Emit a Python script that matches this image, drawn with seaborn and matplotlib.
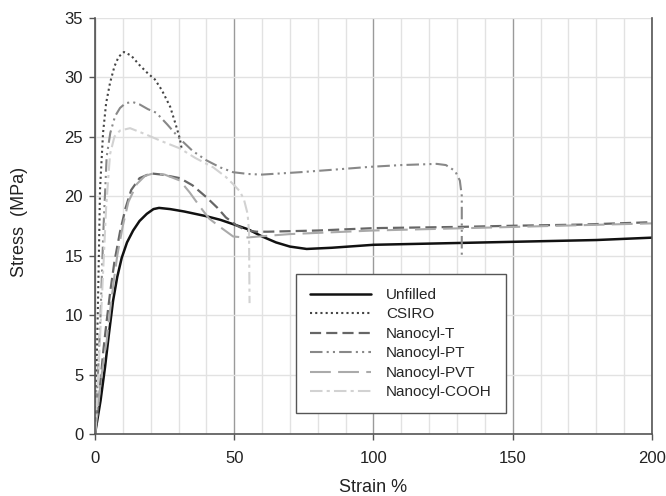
import numpy as np
import pandas as pd
import matplotlib
matplotlib.use('Agg')
import matplotlib.pyplot as plt
import seaborn as sns
from matplotlib.ticker import MultipleLocator

sns.set_style("white")
plt.rcParams['font.family'] = ['Liberation Sans', 'DejaVu Sans']

# stress-strain curves
unfilled_x = [0, 2, 3.6, 5, 6.5, 8, 9.6, 11.5, 13.7, 16, 18.6, 21, 23, 27, 32, 40,
              45, 50, 55, 60, 65, 70, 76, 85, 100, 120, 140, 160, 180, 200]
unfilled_y = [0, 2.8, 5.6, 8.4, 11.2, 13.2, 14.8, 16.1, 17.1, 17.9, 18.5, 18.9, 19.0,
              18.9, 18.7, 18.3, 18.0, 17.6, 17.2, 16.6, 16.1, 15.75, 15.55, 15.65, 15.9,
              16.0, 16.1, 16.2, 16.3, 16.5]

csiro_x = [0, 0.5, 1, 1.4, 1.8, 2.9, 4, 5.4, 7, 8.5, 10.4, 13, 16, 19, 21.5, 24, 27,
           29, 30.5, 31.1]
csiro_y = [0, 5, 10, 15, 20.5, 25.3, 27.8, 29.5, 30.9, 31.7, 32.1, 31.8, 31.0, 30.3,
           29.8, 28.9, 27.5, 26.0, 24.8, 24.0]

t_x = [0, 1, 2, 3, 4.2, 5.5, 7, 9, 11, 13, 16, 20, 24, 30.5, 35, 40, 44, 47, 51,
       54.5, 58, 62, 80, 100, 130, 150, 175, 200]
t_y = [0, 2, 4.5, 7, 9.5, 12, 14.5, 17, 19, 20.5, 21.5, 21.9, 21.8, 21.5, 20.9, 19.9,
       19.0, 18.2, 17.5, 17.1, 17.0, 17.0, 17.1, 17.3, 17.4, 17.5, 17.6, 17.8]

pt_x = [0, 1, 2, 3, 4.2, 5.5, 7.2, 9, 11, 13.5, 16, 19, 22, 26, 30.5, 35, 40, 45,
        49.6, 55, 60, 73.6, 85, 98.7, 110, 122.7, 126, 129.3, 131, 131.7, 131.7]
pt_y = [0, 4.5, 10, 17, 23.3, 25.3, 26.7, 27.4, 27.8, 27.9, 27.7, 27.3, 27.0, 26.0,
        24.8, 23.8, 23.0, 22.4, 22.0, 21.85, 21.8, 22.0, 22.2, 22.45, 22.6, 22.7,
        22.6, 22.1, 21.3, 20.0, 14.9]

pvt_x = [0, 1, 2, 3, 4.2, 5.5, 6.6, 8, 10, 12, 15, 18, 21, 25, 30.5, 34, 37.7, 41,
         44.9, 49.6, 54, 59, 70, 100, 150, 200]
pvt_y = [0, 2, 4.3, 6, 7.8, 10.5, 12.6, 15, 17.5, 19.5, 21, 21.7, 21.9, 21.8, 21.3,
         20.3, 19.1, 18.1, 17.4, 16.6, 16.5, 16.6, 16.8, 17.1, 17.4, 17.7]

cooh_x = [0, 1, 2, 3, 4, 5.4, 7, 9, 12.6, 18, 24, 30.5, 36, 42.5, 47, 49.6, 52, 53.5,
          54.8, 55.3, 55.5]
cooh_y = [0, 4, 9, 14, 19, 23.5, 25, 25.5, 25.7, 25.2, 24.6, 24.0, 23.2, 22.4, 21.6,
          21.0, 20.4, 19.7, 18.5, 17.0, 11.0]

names = ['Unfilled', 'CSIRO', 'Nanocyl-T', 'Nanocyl-PT', 'Nanocyl-PVT', 'Nanocyl-COOH']
xs = [unfilled_x, csiro_x, t_x, pt_x, pvt_x, cooh_x]
ys = [unfilled_y, csiro_y, t_y, pt_y, pvt_y, cooh_y]

frames = [pd.DataFrame({'strain': x, 'stress': y, 'sample': n})
          for n, x, y in zip(names, xs, ys)]
df = pd.concat(frames, ignore_index=True)

line_kw = {
    'Unfilled': dict(color='#111111', lw=1.8, linestyle='-'),
    'CSIRO': dict(color='#444444', lw=1.5, linestyle=(0, (1, 1.5))),
    'Nanocyl-T': dict(color='#666666', lw=1.6, linestyle=(0, (5, 2.3))),
    'Nanocyl-PT': dict(color='#888888', lw=1.5, linestyle=(0, (6, 2, 1, 2, 1, 2))),
    'Nanocyl-PVT': dict(color='#aaaaaa', lw=1.5, linestyle=(0, (10, 3.5))),
    'Nanocyl-COOH': dict(color='#d2d2d2', lw=1.5, linestyle=(0, (6, 2, 1.5, 2))),
}

fig = plt.figure(figsize=(6.66, 4.96), dpi=100)
ax = fig.add_axes([0.1426, 0.125, 0.8364, 0.8397])

for n in names:
    sns.lineplot(data=df[df['sample'] == n], x='strain', y='stress', label=n,
                 estimator=None, sort=False, ax=ax, **line_kw[n])

ax.set_xlim(0, 200)
ax.set_ylim(0, 35)
ax.xaxis.set_major_locator(MultipleLocator(50))
ax.xaxis.set_minor_locator(MultipleLocator(10))
ax.yaxis.set_major_locator(MultipleLocator(5))
ax.set_axisbelow(True)
ax.grid(which='minor', axis='x', color='#e2e2e2', lw=1)
ax.grid(which='major', axis='x', color='#9a9a9a', lw=1)
ax.grid(which='major', axis='y', color='#e2e2e2', lw=1)

ax.spines['top'].set_visible(False)
for s in ['left', 'bottom', 'right']:
    ax.spines[s].set_color('#555555')
    ax.spines[s].set_linewidth(1.2)

ax.tick_params(which='major', direction='out', length=4.5, width=1, color='#555555',
               labelsize=12, labelcolor='#222222', bottom=True, left=True)
ax.tick_params(axis='x', pad=8)
ax.tick_params(axis='y', pad=4)
ax.tick_params(which='minor', length=0)

ax.set_xlabel('Strain %', fontsize=13, color='#222222')
ax.set_ylabel('Stress  (MPa)', fontsize=13, color='#222222')
ax.xaxis.set_label_coords(0.5, -0.108)
ax.yaxis.set_label_coords(-0.120, 0.509)

leg = ax.legend(loc='lower left', bbox_to_anchor=(0.361, 0.05), fontsize=11,
                handlelength=4.0, handletextpad=1.0, labelspacing=0.36,
                frameon=True, fancybox=False, edgecolor='#555555', framealpha=1,
                borderpad=0.9, borderaxespad=0)
leg.get_frame().set_linewidth(1.0)

plt.savefig('out.png', dpi=100)
